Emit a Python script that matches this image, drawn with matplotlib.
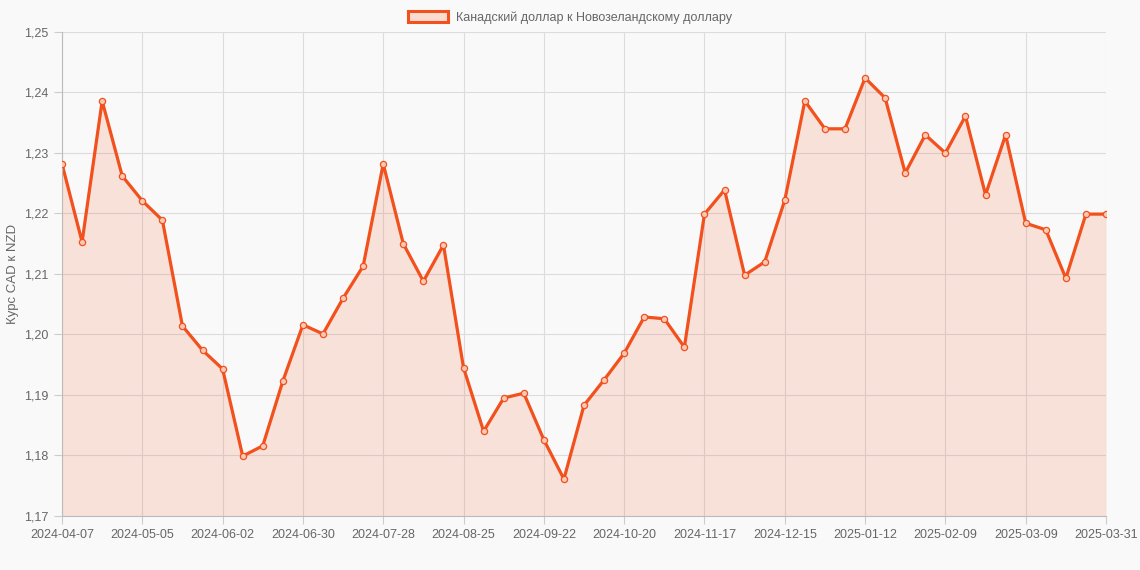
import matplotlib
matplotlib.use("Agg")
import matplotlib.pyplot as plt
from matplotlib.patches import Patch
import numpy as np

plt.rcParams['font.family'] = ['Liberation Sans', 'DejaVu Sans']

# weekly CAD/NZD rate, 53 points
dates = ['2024-04-07', '2024-04-14', '2024-04-21', '2024-04-28', '2024-05-05', '2024-05-12',
         '2024-05-19', '2024-05-26', '2024-06-02', '2024-06-09', '2024-06-16', '2024-06-23',
         '2024-06-30', '2024-07-07', '2024-07-14', '2024-07-21', '2024-07-28', '2024-08-04',
         '2024-08-11', '2024-08-18', '2024-08-25', '2024-09-01', '2024-09-08', '2024-09-15',
         '2024-09-22', '2024-09-29', '2024-10-06', '2024-10-13', '2024-10-20', '2024-10-27',
         '2024-11-03', '2024-11-10', '2024-11-17', '2024-11-24', '2024-12-01', '2024-12-08',
         '2024-12-15', '2024-12-22', '2024-12-29', '2025-01-05', '2025-01-12', '2025-01-19',
         '2025-01-26', '2025-02-02', '2025-02-09', '2025-02-16', '2025-02-23', '2025-03-02',
         '2025-03-09', '2025-03-16', '2025-03-23', '2025-03-30', '2025-03-31']
rates = [1.2282, 1.2153, 1.2386, 1.2262, 1.2221, 1.2189, 1.2014, 1.1974, 1.1943, 1.1799,
         1.1816, 1.1923, 1.2016, 1.2001, 1.2060, 1.2113, 1.2282, 1.2150, 1.2088, 1.2148,
         1.1945, 1.1840, 1.1895, 1.1903, 1.1826, 1.1761, 1.1883, 1.1925, 1.1969, 1.2029,
         1.2026, 1.1979, 1.2199, 1.2239, 1.2098, 1.2120, 1.2222, 1.2386, 1.2340, 1.2340,
         1.2424, 1.2391, 1.2267, 1.2330, 1.2300, 1.2361, 1.2231, 1.2330, 1.2184, 1.2173,
         1.2093, 1.2199, 1.2199]
yticks = [1.17, 1.18, 1.19, 1.20, 1.21, 1.22, 1.23, 1.24, 1.25]

line_color = '#F2501C'
bg = '#f9f9f9'

fig = plt.figure(figsize=(11.4, 5.7), dpi=100, facecolor=bg)
ax = fig.add_axes([62/1140, 54/570, 1044/1140, 484/570])
ax.set_facecolor(bg)

x = np.arange(len(dates))
ax.fill_between(x, rates, 1.17, color=line_color, alpha=0.14, linewidth=0, zorder=1)
ax.plot(x, rates, color=line_color, linewidth=2.3, solid_joinstyle='round', zorder=2)
ax.scatter(x, rates, s=20, facecolor='#F8C9B6', edgecolor=line_color,
           linewidth=0.9, zorder=3)

tick_idx = list(range(0, len(dates) - 1, 4)) + [len(dates) - 1]
ax.set_xticks(tick_idx)
ax.set_xticklabels([dates[i] for i in tick_idx])
ax.set_xlim(0, len(dates) - 1)
ax.set_ylim(1.17, 1.25)
ax.set_yticks(yticks)
ax.set_yticklabels([('%.2f' % v).replace('.', ',') for v in yticks])

ax.grid(True, color='#dcdcdc', linewidth=0.8)
ax.set_axisbelow(True)
ax.tick_params(colors='#cccccc', labelcolor='#666666', labelsize=9, length=6)
for side in ['top', 'right']:
    ax.spines[side].set_visible(False)
ax.spines['left'].set_color('#bbbbbb')
ax.spines['bottom'].set_color('#bbbbbb')

ax.set_ylabel('Курс CAD к NZD', color='#666666', fontsize=9.5, labelpad=4)

handle = Patch(facecolor='#FCDCD0', edgecolor=line_color, linewidth=2.2)
fig.legend(handles=[handle], labels=['Канадский доллар к Новозеландскому доллару'],
           loc='upper center', bbox_to_anchor=(0.5, 1.0), frameon=False,
           fontsize=9, labelcolor='#666666', handlelength=3.2, handleheight=0.9,
           handletextpad=0.6)

fig.savefig('out.png', dpi=100, facecolor=bg)
